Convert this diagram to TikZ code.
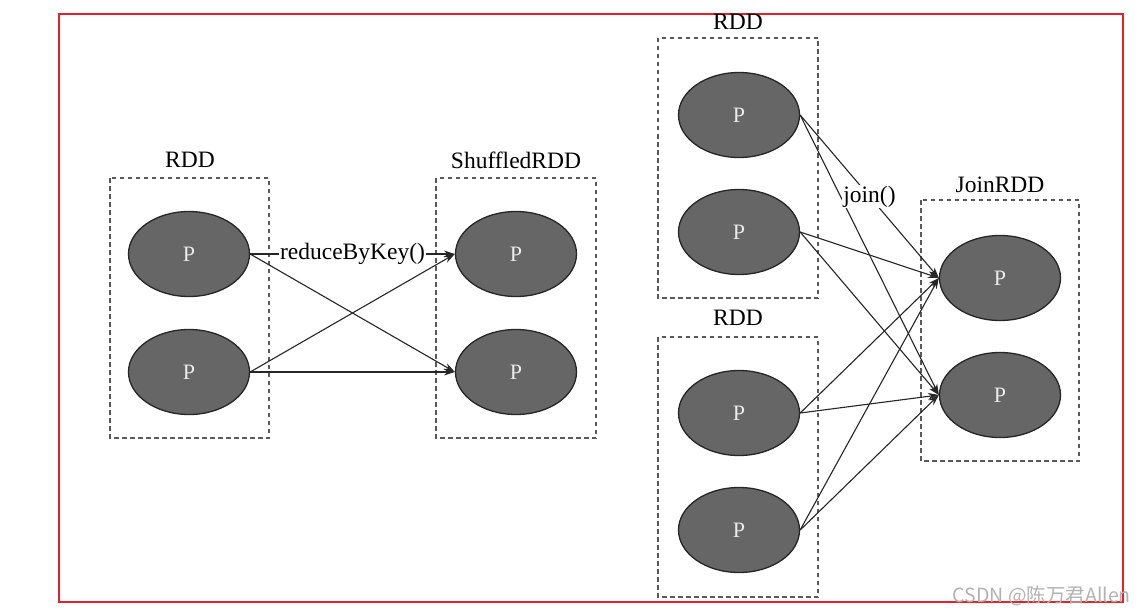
\documentclass[tikz,border=0pt]{standalone}
\usepackage{fontspec}
\setmainfont{Liberation Serif}
\newfontfamily\cjk{Noto Sans CJK SC}
\usetikzlibrary{shapes.geometric,arrows.meta}
\definecolor{frame}{HTML}{E8202A}
\definecolor{pfill}{HTML}{666666}
\tikzset{
  part/.style={ellipse, draw=black!85, line width=1.3pt, fill=pfill, minimum width=121pt, minimum height=85pt, inner sep=0pt, text=white!92!black, font=\fontsize{22}{24}\selectfont},
  group/.style={draw=black!65, dashed, dash pattern=on 4.5pt off 3.5pt, line width=1.4pt},
  title/.style={font=\fontsize{23.5}{26}\selectfont, inner sep=1pt},
  link/.style={draw=black!85, line width=1.1pt, -{Stealth[length=11pt,width=7pt]}},
  lab/.style={fill=white, font=\fontsize{23.5}{26}\selectfont, inner sep=1pt}
}
\begin{document}
\begin{tikzpicture}[x=1pt,y=-1pt]
\useasboundingbox (0,0) rectangle (1145,615);
\fill[white] (0,0) rectangle (1145,615);
\draw[frame, line width=2pt] (59,14) rectangle (1123,602);

% left RDD
\draw[group] (110,178) rectangle (269,438);
\node[title] (t1) at (190,160) {RDD};
\node[part] (L1) at (189,254) {P};
\node[part] (L2) at (189,372) {P};
% ShuffledRDD
\draw[group] (436,178) rectangle (596,438);
\node[title] (t2) at (516,160) {ShuffledRDD};
\node[part] (S1) at (516,254) {P};
\node[part] (S2) at (516,372) {P};

\draw[link] (L1.east) -- (S2.west);
\draw[link] (L2.east) -- (S1.west);
\draw[link] (L2.east) -- (S2.west);
\draw[link] (L1.east) -- node[lab] {reduceByKey()} (S1.west);

% right top RDD
\draw[group] (658,38) rectangle (818,298);
\node[title] (t3) at (738,22) {RDD};
\node[part] (R1) at (739,115) {P};
\node[part] (R2) at (739,232) {P};
% right bottom RDD
\draw[group] (658,337) rectangle (818,597);
\node[title] (t4) at (738,318) {RDD};
\node[part] (R3) at (739,413) {P};
\node[part] (R4) at (739,530) {P};
% JoinRDD
\draw[group] (921,200) rectangle (1079,461);
\node[title] (t5) at (1000,185) {JoinRDD};
\node[part] (J1) at (1000,278) {P};
\node[part] (J2) at (1000,395) {P};

\draw[link] (R1.east) -- (J2.west);
\draw[link] (R2.east) -- (J1.west);
\draw[link] (R2.east) -- (J2.west);
\draw[link] (R3.east) -- (J1.west);
\draw[link] (R3.east) -- (J2.west);
\draw[link] (R4.east) -- (J1.west);
\draw[link] (R4.east) -- (J2.west);
\draw[link] (R1.east) -- node[lab, pos=0.5] {join()} (J1.west);

\node[font=\cjk\fontsize{19.5}{22}\selectfont, text=black!30, anchor=east, inner sep=0pt] (wm) at (1131,596) {CSDN @陈万君Allen};
\end{tikzpicture}
\end{document}
